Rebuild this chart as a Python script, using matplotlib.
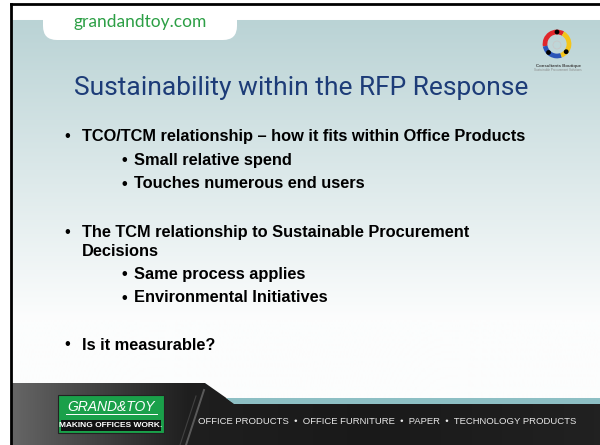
import matplotlib.pyplot as plt
import numpy as np
from matplotlib.patches import Rectangle, Polygon, FancyBboxPatch, Arc, Circle

# slide content
site_label = "grandandtoy.com"
title = "Sustainability within the RFP Response"
lines = [
    "TCO/TCM relationship – how it fits within Office Products",
    "Small relative spend",
    "Touches numerous end users",
    "The TCM relationship to Sustainable Procurement",
    "Decisions",
    "Same process applies",
    "Environmental Initiatives",
    "Is it measurable?",
]
levels = [0, 1, 1, 0, -1, 1, 1, 0]  # -1 = continuation line, no bullet
footer_items = ["OFFICE PRODUCTS", "OFFICE FURNITURE", "PAPER", "TECHNOLOGY PRODUCTS"]
logo_top = "GRAND&TOY"
logo_bottom = "MAKING OFFICES WORK."

# layout (pixels, y down)
line_y = [136, 160, 184, 232, 252, 275, 298, 345]
body_font = "Liberation Sans"
body_size = 11.8

fig = plt.figure(figsize=(6, 4.45), dpi=100)
ax = fig.add_axes([0, 0, 1, 1])
ax.set_xlim(0, 600)
ax.set_ylim(445, 0)
ax.axis("off")

# background gradient of the slide
ys = np.arange(4, 446)
top = np.array([186, 211, 213]) / 255
bot = np.array([252, 253, 253]) / 255
t = np.clip((ys - 20) / 300.0, 0, 1)[:, None]
grad = top * (1 - t) + bot * t
grad[ys < 20] = 1.0
img = np.repeat(grad[:, None, :], 2, axis=1)
ax.imshow(img, extent=(11, 600, 445, 4), aspect="auto", zorder=0)

# header tab
ax.add_patch(FancyBboxPatch((43, -10), 194, 50, boxstyle="round,pad=0,rounding_size=14",
                            fc="white", ec="none", zorder=1))
ax.text(74, 22, site_label, color="#2c9f45", fontsize=12.5, family="Lato",
        va="center", ha="left", zorder=2)

# title
ax.text(301, 88, title, color="#1d3c78", fontsize=19, family="Roboto",
        ha="center", va="center", zorder=2)

# top-right logo
cx, cy, r = 557, 44, 12
for col, a1, a2 in [("#e0262b", 60, 190), ("#2b55b8", 190, 290), ("#f4c51a", 290, 420)]:
    ax.add_patch(Arc((cx, cy), 2 * r, 2 * r, theta1=-a2, theta2=-a1, color=col, lw=3.4, zorder=3))
for a in [90, 225, 320]:
    ax.add_patch(Circle((cx + r * np.cos(np.radians(a)), cy - r * np.sin(np.radians(a))), 2.4,
                        fc="black", ec="none", zorder=4))
ax.add_patch(Circle((cx, cy + 1), 4, fc="none", ec="#c8c8c8", lw=0.6, zorder=3))
ax.text(558, 66, "Consultants Boutique", fontsize=3.2, color="#444444", ha="center",
        va="center", family=body_font, fontweight="bold", zorder=3)
ax.text(558, 70, "Sustainable Procurement Solutions", fontsize=2.2, color="#888888",
        ha="center", va="center", family=body_font, zorder=3)

# body bullets
for txt, lvl, y in zip(lines, levels, line_y):
    if lvl == 0:
        ax.text(64, y, "•", fontsize=body_size, family=body_font, va="center", zorder=3)
        ax.text(82, y, txt, fontsize=body_size, family=body_font, fontweight="bold",
                va="center", zorder=3)
    elif lvl == 1:
        ax.text(121, y, "•", fontsize=body_size, family=body_font, fontweight="bold",
                va="center", zorder=3)
        ax.text(134, y, txt, fontsize=body_size, family=body_font, fontweight="bold",
                va="center", zorder=3)
    else:
        ax.text(82, y, txt, fontsize=body_size, family=body_font, fontweight="bold",
                va="center", zorder=3)

# footer
xs = np.linspace(0, 1, 300)
shade = np.interp(xs, [0, 0.1, 0.3, 0.6, 1], [0.40, 0.3, 0.12, 0.1, 0.13])
foot = np.repeat(np.stack([shade] * 3, axis=-1)[None, :, :], 2, axis=0)
foot_shape = Polygon([(11, 383), (205, 383), (232, 402), (600, 402), (600, 445), (11, 445)],
                     closed=True, fc="none", ec="none")
ax.add_patch(foot_shape)
fim = ax.imshow(foot, extent=(11, 600, 445, 383), aspect="auto", zorder=5)
fim.set_clip_path(foot_shape)
ax.add_patch(Polygon([(226, 398), (600, 398), (600, 404), (234, 404)], closed=True,
                     fc="#8dbfc4", ec="none", zorder=6))
ax.plot([204, 186], [390, 445], color="#8a8a8a", lw=1.4, alpha=0.55, zorder=6)
ax.plot([196, 180], [396, 445], color="#6a6a6a", lw=0.8, alpha=0.45, zorder=6)

# grand & toy logo
ax.add_patch(Rectangle((58, 395), 106, 38, fc="#1aa04a", ec="#222222", lw=0.8, zorder=7))
ax.add_patch(Rectangle((61, 420), 100, 11, fc="#111111", ec="none", zorder=8))
ax.text(111, 407, logo_top, color="white", fontsize=10, style="italic",
        family=body_font, ha="center", va="center", zorder=9)
ax.plot([66, 157], [414, 414], color="white", lw=0.7, zorder=9)
ax.text(111, 425.5, logo_bottom, color="white", fontsize=6, fontweight="bold",
        family=body_font, ha="center", va="center", zorder=9)

ax.text(198, 422, "  •  ".join(footer_items), color="#e8e8e8", fontsize=6.8,
        family=body_font, ha="left", va="center", zorder=9)

# slide frame
ax.plot([11, 11], [4, 445], color="black", lw=2, zorder=10)
ax.plot([11, 600], [4, 4], color="black", lw=2, zorder=10)

fig.savefig("out.png", dpi=100)
